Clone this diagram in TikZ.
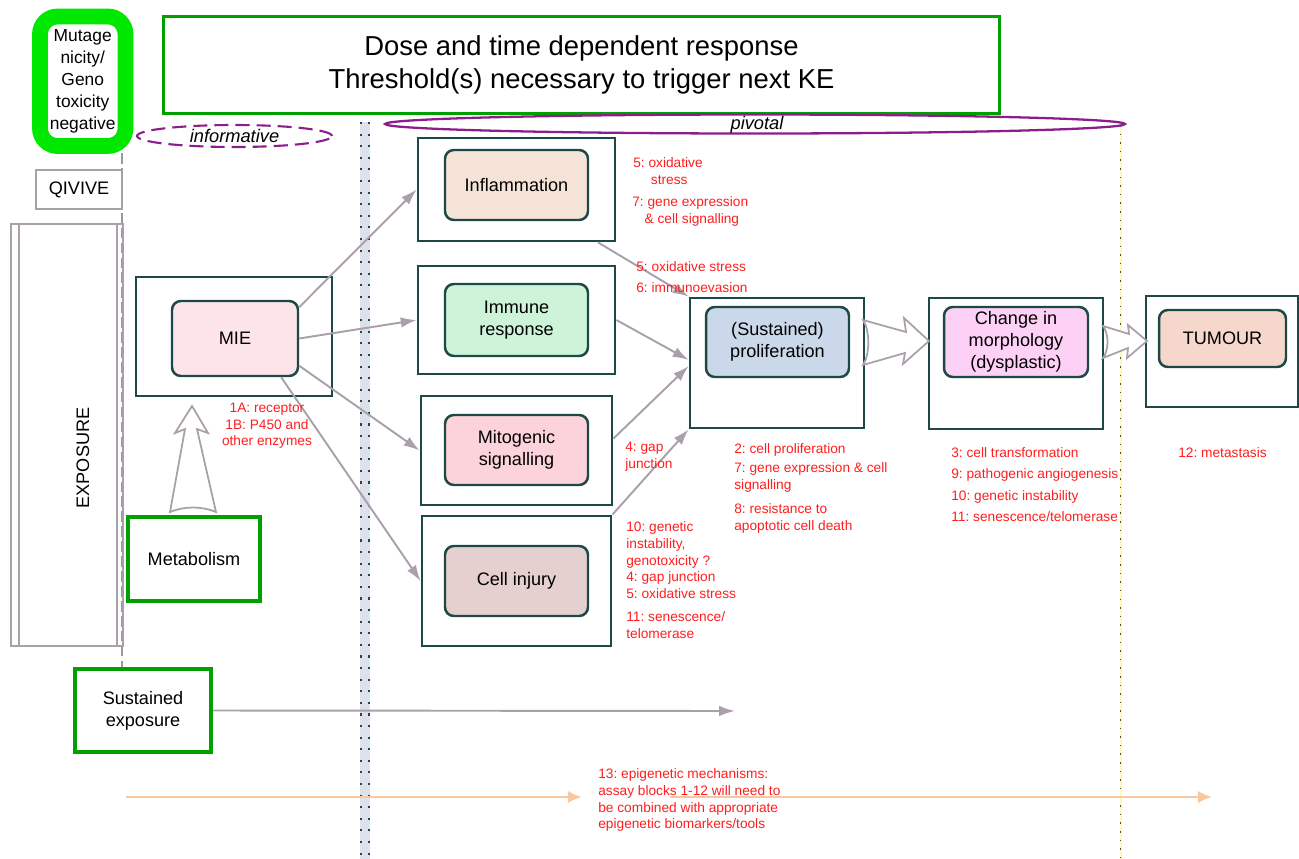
\documentclass[tikz,border=0pt]{standalone}
\usepackage{fontspec}
\setmainfont{Liberation Sans}
\usetikzlibrary{shapes.geometric,arrows.meta}
\frenchspacing
\definecolor{keteal}{RGB}{28,72,70}
\definecolor{arrowgrey}{RGB}{170,160,170}
\definecolor{boxgreen}{RGB}{0,160,0}
\definecolor{brightgreen}{RGB}{0,232,0}
\definecolor{kepurple}{RGB}{140,30,140}
\definecolor{notered}{RGB}{255,30,30}
\definecolor{epiorange}{RGB}{248,200,160}
\definecolor{bandblue}{RGB}{222,224,236}
\definecolor{fillmie}{RGB}{253,227,234}
\definecolor{fillinflam}{RGB}{245,227,216}
\definecolor{fillimmune}{RGB}{205,243,217}
\definecolor{fillmito}{RGB}{253,211,219}
\definecolor{fillinjury}{RGB}{229,208,207}
\definecolor{fillprolif}{RGB}{203,216,234}
\definecolor{fillmorph}{RGB}{253,208,245}
\definecolor{filltumour}{RGB}{245,215,203}
\tikzset{
  kebox/.style={draw=keteal,line width=1.6pt,inner sep=0pt},
  keinner/.style={draw=keteal,line width=1.4pt,rounded corners=5pt,align=center,inner sep=0pt,
    font=\fontsize{10.3}{12.6}\selectfont,minimum width=2.86cm,minimum height=1.4cm},
  greenbox/.style={draw=boxgreen,line width=2.3pt,align=center,inner sep=0pt,font=\fontsize{10.3}{12.6}\selectfont},
  greybox/.style={draw=arrowgrey,line width=1.2pt,align=center,inner sep=0pt,font=\fontsize{10.3}{12.6}\selectfont},
  kearrow/.style={draw=arrowgrey,line width=1.1pt,-{Latex[length=9pt,width=6pt]}},
  epiarrow/.style={draw=epiorange,line width=1.4pt,-{Latex[length=8pt,width=7pt]}},
  hollowarrow/.style={draw=arrowgrey,line width=1pt,fill=white,line join=miter},
  notetext/.style={text=notered,align=left,inner sep=0pt,anchor=north west,font=\fontsize{7.8}{9.6}\selectfont},
}
\begin{document}
\begin{tikzpicture}[x=0.02cm,y=-0.02cm]
  \useasboundingbox (0,0) rectangle (1299,859);
  % vertical guide lines
  \fill [bandblue] (360,122) rectangle (370,859);
  \draw [keteal,line width=1.2pt,dash pattern=on 1.2pt off 5.4pt] (361,122) -- (361,859);
  \draw [keteal,line width=1.2pt,dash pattern=on 1.2pt off 5.4pt] (369,122) -- (369,859);
  \draw [yellow!30,line width=1pt] (1121,125) -- (1121,859);
  \draw [black!70,line width=0.9pt,dash pattern=on 0.9pt off 4pt] (1120.5,125) -- (1120.5,859);
  \draw [black!40,line width=1.3pt,dash pattern=on 6pt off 2.5pt] (122,153) -- (122,668);

  % top boxes
  \node [draw=boxgreen,line width=1.7pt,minimum width=16.74cm,minimum height=1.96cm,align=center,
    font=\fontsize{15.6}{18.7}\selectfont] (dose) at (581.5,65)
    {Dose and time dependent response\\Threshold(s) necessary to trigger next KE};
  \node [draw=brightgreen,line width=9pt,rounded corners=10pt,minimum width=1.71cm,minimum height=2.59cm,
    align=center,inner sep=0pt,font=\fontsize{9.9}{12.4}\selectfont] (mutagen) at (82.75,81.25)
    {Mutage\\nicity/\\Geno\\toxicity\\negative};
  \node [ellipse,draw=kepurple,line width=1.2pt,dash pattern=on 8pt off 4pt,minimum width=3.9cm,
    minimum height=0.44cm,inner sep=0pt] (informative) at (234.5,136) {};
  \node [font=\fontsize{10.4}{12}\selectfont\itshape] at (informative) {informative};
  \node [ellipse,draw=kepurple,line width=1.3pt,minimum width=14.8cm,minimum height=0.38cm,inner sep=0pt]
    (pivotal) at (755,124) {};
  \node [font=\fontsize{10.4}{12}\selectfont\itshape] at (757,125) {pivotal};

  % exposure column
  \node [greybox,minimum width=1.72cm,minimum height=0.78cm] (qivive) at (79,189.5) {QIVIVE};
  \node [greybox,minimum width=2.24cm,minimum height=8.44cm] (exposure) at (67,435) {};
  \draw [arrowgrey,line width=0.8pt] (19,224) -- (19,646);
  \draw [arrowgrey,line width=0.8pt] (117,224) -- (117,646);
  \node [rotate=90,font=\fontsize{10.3}{12.6}\selectfont] at (83,458) {EXPOSURE};
  \node [greenbox,minimum width=2.64cm,minimum height=1.68cm] (metabolism) at (194,559) {Metabolism};
  \node [greenbox,minimum width=2.72cm,minimum height=1.66cm] (sustained) at (143,710.5) {Sustained\\exposure};

  % key events
  \node [kebox,minimum width=3.92cm,minimum height=2.38cm] (mieBox) at (234,336.5) {};
  \node [keinner,fill=fillmie,minimum width=2.52cm,minimum height=1.5cm] (mie) at (235,338.5) {MIE};
  \node [kebox,minimum width=3.94cm,minimum height=2.06cm] (inflamBox) at (516.5,189.5) {};
  \node [keinner,fill=fillinflam] (inflam) at (516.5,185) {Inflammation};
  \node [kebox,minimum width=3.94cm,minimum height=2.16cm] (immuneBox) at (516.5,320) {};
  \node [keinner,fill=fillimmune,minimum height=1.44cm] (immune) at (516.5,320) {Immune\\response};
  \node [kebox,minimum width=3.82cm,minimum height=2.18cm] (mitoBox) at (516.5,450.5) {};
  \node [keinner,fill=fillmito] (mito) at (516.5,450) {Mitogenic\\signalling};
  \node [kebox,minimum width=3.78cm,minimum height=2.6cm] (injuryBox) at (516.5,581) {};
  \node [keinner,fill=fillinjury] (injury) at (516.5,581) {Cell injury};
  \node [kebox,minimum width=3.48cm,minimum height=2.6cm] (prolifBox) at (777,363) {};
  \node [keinner,fill=fillprolif] (prolif) at (777.5,342) {(Sustained)\\proliferation};
  \node [kebox,minimum width=3.48cm,minimum height=2.62cm] (morphBox) at (1016,363.5) {};
  \node [keinner,fill=fillmorph,minimum width=2.88cm] (morph) at (1016,342) {Change in\\morphology\\(dysplastic)};
  \node [kebox,minimum width=3.04cm,minimum height=2.22cm] (tumourBox) at (1222,351.5) {};
  \node [keinner,fill=filltumour,minimum width=2.54cm,minimum height=1.14cm] (tumour) at (1222.5,338.5) {TUMOUR};

  % connectors
  \draw [kearrow] (mie.26) -- (inflamBox.west);
  \draw [kearrow] (mie.east) -- (immuneBox.west);
  \draw [kearrow] (mie.-23) -- (mitoBox.west);
  \draw [kearrow] (mie.-40) -- (injuryBox.west);
  \draw [kearrow] (inflamBox.-33) -- (prolifBox.north west);
  \draw [kearrow] (immuneBox.east) -- (prolifBox.178);
  \draw [kearrow] (mitoBox.7) -- (prolifBox.182);
  \draw [kearrow] (injuryBox.north east) -- (prolifBox.south west);
  \coordinate (sustEnd) at (735,711);
  \draw [kearrow] (sustained.east) -- (sustEnd);
  \coordinate (epiStart) at (126,797);
  \coordinate (epiMid) at (582,797);
  \coordinate (epiResume) at (670,797);
  \coordinate (epiEnd) at (1212,797);
  \draw [epiarrow] (epiStart) -- (epiMid);
  \draw [epiarrow] (epiResume) -- (epiEnd);

  % hollow arrows
  \draw [hollowarrow] (170,512) -- (185,429) -- (175,433) -- (192,406) -- (208,433) -- (197,429) -- (216,512)
    .. controls (201,506) and (185,506) .. (170,512) -- cycle;
  \draw [hollowarrow] (863,320) -- (906,332) -- (904,318) -- (929,341) -- (903,364) -- (905,353) -- (863,365)
    .. controls (870,355) and (870,330) .. (863,320) -- cycle;
  \draw [hollowarrow] (1103,326) -- (1129,334) -- (1128,325) -- (1147,341) -- (1127,358) -- (1128,348) -- (1103,358)
    .. controls (1109,350) and (1109,334) .. (1103,326) -- cycle;

  % assay notes
  \node [notetext,anchor=north,align=center,font=\fontsize{7.8}{9.4}\selectfont] (noteMie) at (267,403)
    {1A: receptor\\1B: P450 and\\other enzymes};
  \node [notetext] (noteInflamA) at (633,157) {5: oxidative\\\hspace{10pt}stress};
  \node [notetext] (noteInflamB) at (632,196) {7: gene expression\\\hspace{7pt}\& cell signalling};
  \node [notetext] (noteImmune) at (636,261) {5: oxidative stress\\[2.4pt]6: immunoevasion};
  \node [notetext] (noteMito) at (625,442) {4: gap\\junction};
  \node [notetext] (noteInjury) at (626,521) {10: genetic\\instability,\\genotoxicity ?\\4: gap junction\\5: oxidative stress\\[3.4pt]11: senescence/\\telomerase};
  \node [notetext] (noteProlif) at (734,443) {2: cell proliferation\\[1.4pt]7: gene expression \& cell\\signalling\\[4pt]8: resistance to\\apoptotic cell death};
  \node [notetext] (noteMorph) at (951,447) {3: cell transformation\\[2.6pt]9: pathogenic angiogenesis\\[2.6pt]10: genetic instability\\[2.6pt]11: senescence/telomerase};
  \node [notetext] (noteTumour) at (1178,447) {12: metastasis};
  \node [notetext] (noteEpi) at (598,768) {13: epigenetic mechanisms:\\assay blocks 1-12 will need to\\be combined with appropriate\\epigenetic biomarkers/tools};
\end{tikzpicture}
\end{document}
